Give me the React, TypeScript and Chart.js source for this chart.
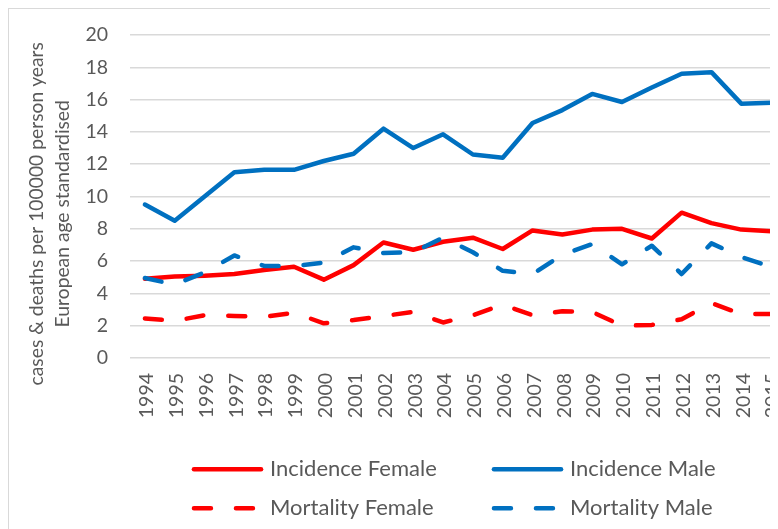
import React, { useEffect, useRef } from "react";
import { Chart, registerables } from "chart.js";

Chart.register(...registerables);

const years = ["1994","1995","1996","1997","1998","1999","2000","2001","2002","2003","2004","2005","2006","2007","2008","2009","2010","2011","2012","2013","2014","2015"];
const incidenceFemale = [4.9, 5.05, 5.1, 5.2, 5.45, 5.65, 4.85, 5.75, 7.15, 6.7, 7.2, 7.45, 6.75, 7.9, 7.65, 7.95, 8.0, 7.4, 9.0, 8.35, 7.95, 7.85];
const incidenceMale = [9.5, 8.5, 10.0, 11.5, 11.65, 11.65, 12.2, 12.65, 14.2, 13.0, 13.85, 12.6, 12.4, 14.55, 15.35, 16.35, 15.85, 16.75, 17.6, 17.7, 15.75, 15.8];
const mortalityFemale = [2.45, 2.3, 2.65, 2.6, 2.55, 2.8, 2.15, 2.35, 2.6, 2.85, 2.2, 2.65, 3.3, 2.65, 2.9, 2.85, 2.0, 2.05, 2.4, 3.4, 2.72, 2.72];
const mortalityMale = [4.95, 4.55, 5.3, 6.35, 5.7, 5.7, 5.9, 6.85, 6.5, 6.55, 7.45, 6.55, 5.4, 5.2, 6.4, 7.05, 5.8, 6.95, 5.2, 7.1, 6.25, 5.65];

const seriesLabels = ["Incidence Female", "Incidence Male", "Mortality Female", "Mortality Male"];
const yMin = 0;
const yMax = 20;
const yStep = 2;
const yTitle = ["cases & deaths per 100000 person years", "European age standardised"];

const RED = "#FF0000";
const BLUE = "#0070C0";
const TEXT = "#595959";
const GRID = "#D9D9D9";
const FONT = "Lato, 'Noto Sans', sans-serif";
const DASH = [17, 25];
const LW = 4.5;

const gridLegend = {
  id: "gridLegend",
  afterDraw(chart: any) {
    const ctx = chart.ctx as CanvasRenderingContext2D;
    const cols = [182.7, 482.7];
    const rows = [460.3, 499.3];
    const lineLen = 71.6;
    chart.data.datasets.forEach((ds: any, i: number) => {
      const x0 = cols[i % 2];
      const y = rows[Math.floor(i / 2)];
      ctx.save();
      ctx.strokeStyle = ds.borderColor;
      ctx.lineWidth = ds.borderWidth;
      ctx.lineCap = "round";
      ctx.setLineDash(ds.borderDash || []);
      ctx.beginPath();
      ctx.moveTo(x0 + LW / 2, y);
      ctx.lineTo(x0 + lineLen - LW / 2, y);
      ctx.stroke();
      ctx.setLineDash([]);
      ctx.fillStyle = TEXT;
      ctx.font = `22px ${FONT}`;
      ctx.textAlign = "left";
      ctx.textBaseline = "alphabetic";
      ctx.fillText(ds.label, x0 + 78.3, y + 6.7);
      ctx.restore();
    });
  },
};

export default function App() {
  const ref = useRef<HTMLCanvasElement | null>(null);

  useEffect(() => {
    document.documentElement.style.overflow = "hidden";
    document.body.style.overflow = "hidden";
    const canvas = ref.current;
    if (!canvas) return;
    const mk = (label: string, data: number[], color: string, dashed: boolean, order: number) => ({
      label,
      data,
      borderColor: color,
      backgroundColor: color,
      borderWidth: LW,
      borderDash: dashed ? DASH : [],
      borderCapStyle: "round" as const,
      borderJoinStyle: "round" as const,
      pointRadius: 0,
      pointHoverRadius: 0,
      tension: 0,
      fill: false,
      order,
    });
    const chart = new Chart(canvas, {
      type: "line",
      data: {
        labels: years,
        datasets: [
          mk(seriesLabels[0], incidenceFemale, RED, false, 3),
          mk(seriesLabels[1], incidenceMale, BLUE, false, 2),
          mk(seriesLabels[2], mortalityFemale, RED, true, 1),
          mk(seriesLabels[3], mortalityMale, BLUE, true, 0),
        ],
      },
      options: {
        responsive: false,
        animation: false,
        devicePixelRatio: 1,
        layout: { padding: { top: 26, right: 23, bottom: 91, left: 0 } },
        plugins: {
          legend: { display: false },
          tooltip: { enabled: false },
          title: { display: false },
        },
        scales: {
          x: {
            offset: true,
            grid: { display: false, drawTicks: false },
            border: { display: false },
            ticks: {
              color: TEXT,
              font: { family: FONT, size: 19.5 },
              minRotation: 90,
              maxRotation: 90,
              padding: 15,
              labelOffset: 2,
              autoSkip: false,
            },
            afterFit: (s: any) => {
              s.height = 80;
              s.paddingLeft = 0;
              s.paddingRight = 0;
            },
          },
          y: {
            min: yMin,
            max: yMax,
            grid: { color: GRID, lineWidth: 1.5, drawTicks: false },
            border: { display: false },
            ticks: {
              stepSize: yStep,
              color: TEXT,
              font: { family: FONT, size: 19.5 },
              padding: 22,
            },
            title: {
              display: true,
              text: yTitle.map((t) => t + "\u00a0".repeat(7)),
              color: TEXT,
              font: { family: FONT, size: 19.3, lineHeight: 26 / 19.3 },
              padding: { top: 14.7, bottom: 0 },
            },
            afterFit: (s: any) => {
              s.width = 121;
              s.paddingTop = 0;
              s.paddingBottom = 0;
            },
          },
        },
      },
      plugins: [gridLegend],
    });
    return () => chart.destroy();
  }, []);

  return (
    <div
      style={{
        width: 770,
        height: 521,
        overflow: "hidden",
        borderTop: `1px solid ${GRID}`,
        borderLeft: `1px solid ${GRID}`,
        boxSizing: "border-box",
        background: "#fff",
      }}
    >
      <canvas ref={ref} width={800} height={520} style={{ display: "block", width: 800, height: 520 }} />
    </div>
  );
}
